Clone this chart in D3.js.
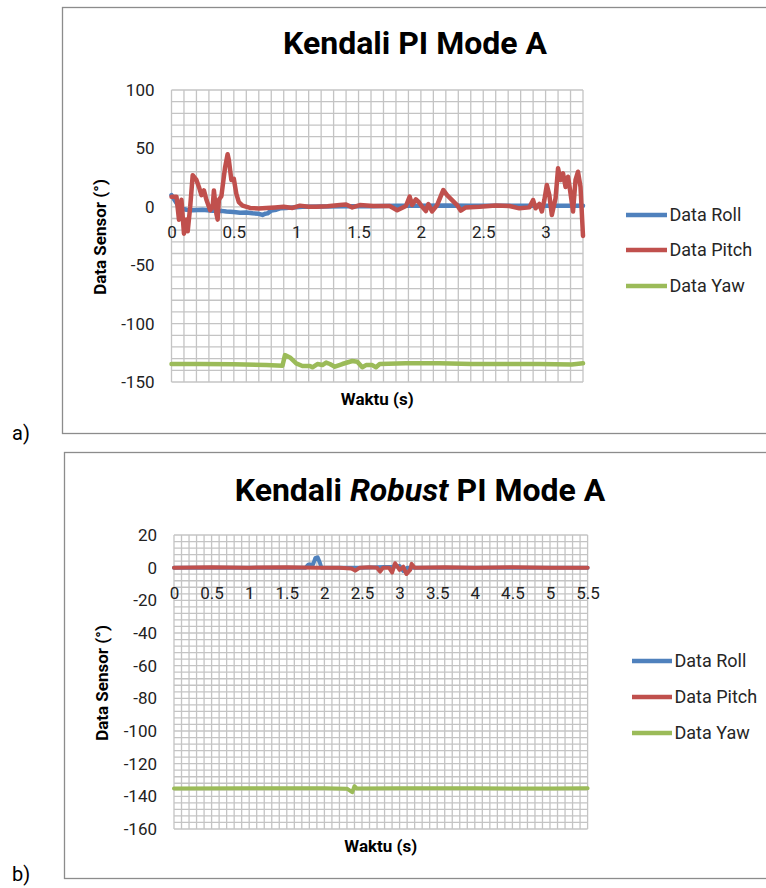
<!DOCTYPE html>
<html>
<head>
<meta charset="utf-8">
<script src="https://cdn.jsdelivr.net/npm/d3@7"></script>
<style>
  body { margin: 0; background: #fff; }
  svg { display: block; font-family: Roboto, "Noto Sans", sans-serif; }
</style>
</head>
<body>
<div id="chart"></div>
<script>
// ---- data ----
var seriesNames = ["Data Roll", "Data Pitch", "Data Yaw"];
var seriesColors = ["#4F81BD", "#C0504D", "#9BBB59"];

// panel a) Kendali PI Mode A : [time (s), angle (deg)]
var rollA = [[0,10],[0.03,5],[0.06,0],[0.08,-1.5],[0.12,-2.5],[0.17,-3],[0.25,-2.5],[0.33,-3.3],[0.4,-3.5],
  [0.44,-4],[0.5,-4.5],[0.55,-5],[0.6,-4.8],[0.65,-5.6],[0.7,-6],[0.73,-7],[0.75,-6],[0.77,-5.6],[0.8,-3.3],
  [0.84,-2.5],[0.87,-1.3],[0.92,-1],[0.97,-0.5],[1.05,0],[1.2,0.3],[1.4,0.5],[1.6,0.5],[1.8,0.8],[2.0,1],
  [2.2,1.2],[2.4,0.8],[2.6,1],[2.8,1],[3.0,1],[3.15,1],[3.3,1]];
var pitchA = [[0,8.7],[0.04,8.7],[0.06,-11],[0.08,6],[0.1,-23],[0.12,-11],[0.13,-21],[0.15,0],[0.17,27],
  [0.2,23],[0.22,17],[0.24,10],[0.26,14],[0.28,6],[0.31,-3],[0.33,0],[0.34,14],[0.36,-6],[0.37,-11],[0.38,6],
  [0.4,9],[0.43,34],[0.45,45],[0.46,40],[0.48,23],[0.5,24],[0.52,11],[0.54,4],[0.57,1],[0.63,-1],[0.7,-1.5],
  [0.76,-1],[0.83,-0.5],[0.9,0],[0.97,-1],[1.03,1],[1.1,0],[1.16,0],[1.25,0.5],[1.35,1.5],[1.4,2],[1.45,-0.5],
  [1.51,1.5],[1.62,0.7],[1.75,0.7],[1.81,-3],[1.88,0.7],[1.91,8.7],[1.93,1.5],[1.96,6.4],[1.98,4.4],[2.01,0],
  [2.04,-3.6],[2.06,2.4],[2.09,-4],[2.13,1.5],[2.18,14.4],[2.21,10],[2.25,5.8],[2.29,1.5],[2.32,-3.3],
  [2.36,-0.5],[2.47,0],[2.6,1.2],[2.71,0.7],[2.79,-1.3],[2.87,-0.5],[2.9,5.8],[2.92,-1.3],[2.95,2.4],[2.97,-4],
  [2.99,5.8],[3.01,18.7],[3.03,10],[3.05,-7],[3.08,7.3],[3.1,33],[3.12,23],[3.14,28.6],[3.16,17],[3.18,25.8],
  [3.2,11.5],[3.22,-4],[3.24,23],[3.26,30],[3.28,17],[3.3,-25]];
var yawA = [[0,-134.6],[0.23,-134.6],[0.5,-134.8],[0.76,-135.5],[0.89,-136],[0.91,-127],[0.95,-129],[1.0,-134],
  [1.05,-136.3],[1.11,-136.3],[1.13,-137.4],[1.17,-134.6],[1.21,-135.5],[1.24,-133.4],[1.27,-134.6],[1.31,-136.9],
  [1.37,-134.6],[1.45,-132],[1.49,-132.6],[1.53,-137.4],[1.56,-135.5],[1.61,-135.5],[1.64,-137.4],[1.67,-134.6],
  [1.88,-134],[2.15,-134],[2.41,-134.6],[2.68,-134.6],[2.95,-134.6],[3.21,-135],[3.3,-134]];
var xTicksA = [0, 0.5, 1, 1.5, 2, 2.5, 3];
var yTicksA = [100, 50, 0, -50, -100, -150];

// panel b) Kendali Robust PI Mode A
var rollB = [[0,0],[1.0,0],[1.75,0],[1.79,2],[1.85,2],[1.88,6],[1.91,6.3],[1.94,3],[1.96,0],[2.5,0],[2.9,0.5],
  [3.0,1],[3.05,-2],[3.1,0],[5.5,0]];
var pitchB = [[0,0],[0.5,0.3],[1.0,0],[1.5,0.3],[1.9,0],[2.2,0],[2.36,-0.5],[2.41,-1.8],[2.47,0],[2.6,0.3],
  [2.7,0],[2.74,-2.4],[2.78,0],[2.86,0],[2.9,-3],[2.94,2.7],[3.0,-1.4],[3.05,0.6],[3.09,-3.9],[3.14,-1.4],
  [3.16,2.3],[3.2,0],[3.6,0.3],[4.0,0],[4.5,0.3],[5.0,0],[5.5,0]];
var yawB = [[0,-135.2],[1.0,-135],[2.0,-135.1],[2.3,-135.3],[2.34,-136.5],[2.37,-137.5],[2.4,-133.8],
  [2.43,-135.2],[3.0,-135.1],[4.0,-135.1],[5.0,-135.2],[5.5,-135]];
var xTicksB = [0, 0.5, 1, 1.5, 2, 2.5, 3, 3.5, 4, 4.5, 5, 5.5];
var yTicksB = [20, 0, -20, -40, -60, -80, -100, -120, -140, -160];

var svg = d3.select("#chart").append("svg")
    .attr("width", 766)
    .attr("height", 888);

svg.append("rect").attr("width", 766).attr("height", 888).attr("fill", "#fff");

function drawPanel(p) {
  // outer frame of the excel chart
  svg.append("rect")
      .attr("x", p.frame[0]).attr("y", p.frame[1])
      .attr("width", p.frame[2]).attr("height", p.frame[3])
      .attr("fill", "none").attr("stroke", "#8c8c8c").attr("stroke-width", 1.3);

  svg.append("text")
      .attr("x", 12).attr("y", p.tag[1])
      .attr("font-size", 20).attr("fill", "#000")
      .text(p.tag[0]);

  var x = d3.scaleLinear().domain(p.xDomain).range([p.plot.left, p.plot.right]);
  var y = d3.scaleLinear().domain(p.yDomain).range([p.plot.bottom, p.plot.top]);

  // minor gridlines
  var g = svg.append("g");
  var nx = Math.round((p.xDomain[1] - p.xDomain[0]) / p.xStep);
  var ny = Math.round((p.yDomain[1] - p.yDomain[0]) / p.yStep);
  g.selectAll(".vg").data(d3.range(nx + 1).map(function(i) { return p.xDomain[0] + i * p.xStep; }))
    .enter().append("line")
      .attr("x1", function(d) { return x(d); }).attr("x2", function(d) { return x(d); })
      .attr("y1", p.plot.top).attr("y2", p.plot.bottom)
      .attr("stroke", "#c4c4c4").attr("stroke-width", 1.3);
  g.selectAll(".hg").data(d3.range(ny + 1).map(function(i) { return p.yDomain[0] + i * p.yStep; }))
    .enter().append("line")
      .attr("y1", function(d) { return y(d); }).attr("y2", function(d) { return y(d); })
      .attr("x1", p.plot.left).attr("x2", p.plot.right)
      .attr("stroke", "#c4c4c4").attr("stroke-width", 1.3);

  // series lines
  var line = d3.line()
      .x(function(d) { return x(d[0]); })
      .y(function(d) { return y(d[1]); });
  p.series.forEach(function(s, i) {
    svg.append("path")
        .datum(s)
        .attr("fill", "none")
        .attr("stroke", seriesColors[i])
        .attr("stroke-width", p.lineWidth)
        .attr("stroke-linejoin", "round")
        .attr("stroke-linecap", "round")
        .attr("d", line);
  });

  // axes: x labels sit on the zero line
  var xa = svg.append("g")
      .attr("transform", "translate(0," + y(0) + ")")
      .call(d3.axisBottom(x).tickValues(p.xTicks).tickSize(0).tickPadding(19)
        .tickFormat(function(d) { return String(d); }));
  xa.select(".domain").remove();
  xa.selectAll("text").attr("font-size", 17).attr("fill", "#222").attr("font-family", "Roboto");

  var ya = svg.append("g")
      .attr("transform", "translate(" + p.plot.left + ",0)")
      .call(d3.axisLeft(y).tickValues(p.yTicks).tickSize(0).tickPadding(17)
        .tickFormat(function(d) { return String(d); }));
  ya.select(".domain").remove();
  ya.selectAll("text").attr("font-size", 17).attr("fill", "#222").attr("font-family", "Roboto");

  // title
  var t = svg.append("text")
      .attr("x", p.titleX).attr("y", p.titleY)
      .attr("text-anchor", "middle")
      .attr("font-size", 32).attr("font-weight", "bold").attr("fill", "#000");
  p.title.forEach(function(part) {
    t.append("tspan").attr("font-style", part[1] ? "italic" : "normal").text(part[0]);
  });

  // axis titles
  svg.append("text")
      .attr("x", (p.plot.left + p.plot.right) / 2).attr("y", p.xTitleY)
      .attr("text-anchor", "middle").attr("font-size", 17).attr("font-weight", "bold")
      .text("Waktu (s)");
  svg.append("text")
      .attr("transform", "translate(" + p.yTitleX + "," + p.yTitleY + ") rotate(-90)")
      .attr("text-anchor", "middle").attr("font-size", 17).attr("font-weight", "bold")
      .text("Data Sensor (°)");

  // legend
  seriesNames.forEach(function(name, i) {
    var ly = p.legend.y[i];
    svg.append("line")
        .attr("x1", p.legend.x1).attr("x2", p.legend.x2)
        .attr("y1", ly).attr("y2", ly)
        .attr("stroke", seriesColors[i]).attr("stroke-width", 4.5);
    svg.append("text")
        .attr("x", p.legend.x2 + 2.5).attr("y", ly).attr("dy", "0.35em")
        .attr("font-size", 18).attr("fill", "#262626")
        .text(name);
  });
}

drawPanel({
  frame: [62.5, 7.5, 710, 426],
  tag: ["a)", 440],
  plot: { left: 171.5, right: 583, top: 90, bottom: 382 },
  xDomain: [0, 3.3], yDomain: [-150, 100],
  xStep: 0.1, yStep: 10,
  xTicks: xTicksA, yTicks: yTicksA,
  series: [rollA, pitchA, yawA],
  lineWidth: 4.5,
  title: [["Kendali PI Mode A", false]],
  titleX: 415, titleY: 54,
  xTitleY: 405,
  yTitleX: 106, yTitleY: 237,
  legend: { x1: 626, x2: 667, y: [215, 250, 286] }
});

drawPanel({
  frame: [64.5, 452.5, 710, 426],
  tag: ["b)", 881],
  plot: { left: 174, right: 587.6, top: 535, bottom: 829 },
  xDomain: [0, 5.5], yDomain: [-160, 20],
  xStep: 0.1, yStep: 4,
  xTicks: xTicksB, yTicks: yTicksB,
  series: [rollB, pitchB, yawB],
  lineWidth: 4,
  title: [["Kendali ", false], ["Robust", true], [" PI Mode A", false]],
  titleX: 420, titleY: 501,
  xTitleY: 852,
  yTitleX: 108, yTitleY: 683,
  legend: { x1: 632, x2: 672, y: [661, 697, 733] }
});
</script>
</body>
</html>
